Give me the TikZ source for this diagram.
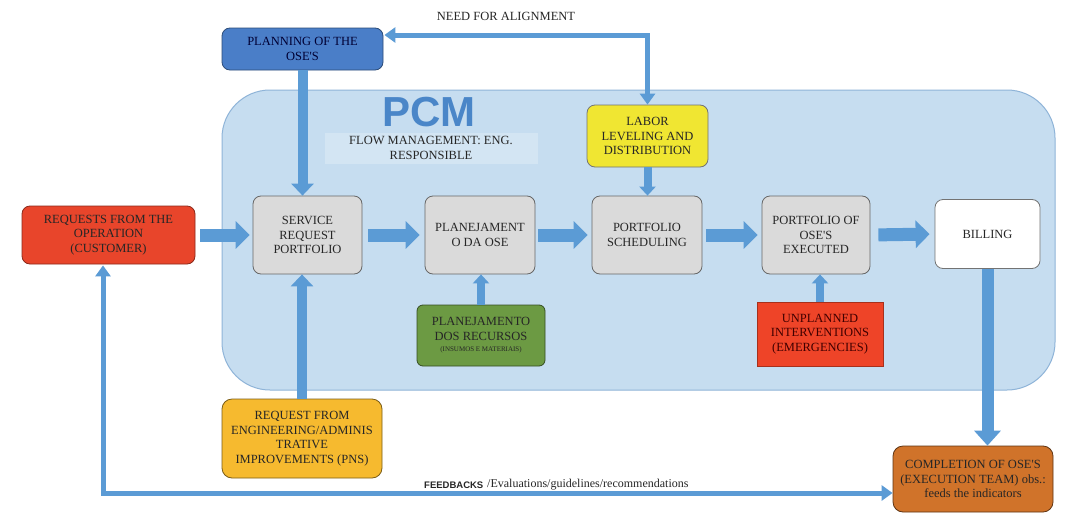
\documentclass[tikz,border=0pt]{standalone}
\usepackage{fontspec}
\setmainfont{Liberation Serif}
\newfontfamily\serfam{Liberation Serif}
\newfontfamily\sansfam{Liberation Sans}
\usetikzlibrary{arrows.meta}
\definecolor{arrowblue}{HTML}{5B9BD5}
\definecolor{panelfill}{HTML}{C6DDF0}
\definecolor{paneldraw}{HTML}{8FB4D8}
\definecolor{stripfill}{HTML}{D3E5F3}
\definecolor{pcmblue}{HTML}{4A86C8}
\definecolor{boxgrey}{HTML}{DADADA}
\definecolor{planblue}{HTML}{4A7EC8}
\definecolor{laboryellow}{HTML}{F0E632}
\definecolor{reqred}{HTML}{E8452B}
\definecolor{recgreen}{HTML}{6C9A43}
\definecolor{unplred}{HTML}{EE4428}
\definecolor{engorange}{HTML}{F6BA2F}
\definecolor{comporange}{HTML}{D0732A}
\begin{document}
\begin{tikzpicture}[x=1pt,y=-1pt,
  txt/.style={font=\serfam\fontsize{12.5}{14.5}\selectfont, align=center, text=black!85},
  box/.style={txt, rectangle, rounded corners=8pt, draw=black!60, line width=0.8pt, inner sep=1pt},
  greybox/.style={box, fill=boxgrey, minimum width=109pt, minimum height=78pt},
  bigarrow/.style={draw=arrowblue, line width=13pt, -{Triangle[length=14pt,width=27pt]}},
  vertarrow/.style={draw=arrowblue, line width=10pt, -{Triangle[length=12pt,width=22pt]}},
  smallarrow/.style={draw=arrowblue, line width=8pt, -{Triangle[length=9pt,width=16pt]}},
  billarrow/.style={draw=arrowblue, line width=12pt, -{Triangle[length=15pt,width=26pt]}},
  thinboth/.style={draw=arrowblue, line width=5pt, {Triangle[length=11pt,width=15pt]}-{Triangle[length=11pt,width=15pt]}}
]
\useasboundingbox (0,0) rectangle (1075,514);
\fill[white] (0,0) rectangle (1075,514);
% panel
\draw[fill=panelfill, draw=paneldraw, line width=1pt, rounded corners=48pt] (222,90) rectangle (1055,390);
\fill[stripfill] (325,133) rectangle (538,164);
\node[font=\sansfam\bfseries\fontsize{42}{42}\selectfont, text=pcmblue] (pcm) at (429,112) {PCM};
\node[txt] (flow) at (431,148) {FLOW MANAGEMENT: ENG.\\RESPONSIBLE};
% nodes
\node[box, fill=planblue, draw=planblue!60!black, minimum width=161pt, minimum height=42pt, text=black!80!blue] (plan) at (302.5,49) {PLANNING OF THE\\OSE'S};
\node[box, fill=laboryellow, draw=black!55, minimum width=121pt, minimum height=62pt] (labor) at (647.5,136) {LABOR\\LEVELING AND\\DISTRIBUTION};
\node[box, fill=reqred, draw=reqred!60!black, minimum width=173pt, minimum height=58pt] (req) at (108.5,235) {REQUESTS FROM THE\\OPERATION\\(CUSTOMER)};
\node[greybox] (srp) at (307.5,235) {SERVICE\\REQUEST\\PORTFOLIO};
\node[greybox, minimum width=110pt] (pda) at (480,235) {PLANEJAMENT\\O DA OSE};
\node[greybox, minimum width=110pt] (sched) at (647,235) {PORTFOLIO\\SCHEDULING};
\node[greybox, minimum width=108pt] (exec) at (816,235) {PORTFOLIO OF\\OSE'S\\EXECUTED};
\node[box, fill=white, draw=black!55, minimum width=105pt, minimum height=69pt] (bill) at (987.5,234) {BILLING};
\node[box, fill=recgreen, draw=recgreen!50!black, minimum width=128pt, minimum height=61pt, rounded corners=6pt] (rec) at (481,335.5) {PLANEJAMENTO\\DOS RECURSOS\\[-3pt]{\fontsize{7}{8}\selectfont (INSUMOS E MATERIAIS)}};
\node[txt, rectangle, fill=unplred, draw=unplred!70!black, line width=0.6pt, minimum width=126pt, minimum height=64pt, inner sep=1pt, text=black!75!red] (unpl) at (820,334) {UNPLANNED\\INTERVENTIONS\\(EMERGENCIES)};
\node[box, fill=engorange, draw=engorange!50!black, minimum width=160pt, minimum height=79pt, rounded corners=10pt] (eng) at (302,438.5) {REQUEST FROM\\ENGINEERING/ADMINIS\\TRATIVE\\IMPROVEMENTS (PNS)};
\node[box, fill=comporange, draw=comporange!45!black, minimum width=160pt, minimum height=66pt, rounded corners=10pt] (comp) at (973,479) {COMPLETION OF OSE'S\\(EXECUTION TEAM) obs.:\\feeds the indicators};
% main flow arrows
\draw[bigarrow, shorten <=5pt, shorten >=3pt] (req.east) -- (srp.west);
\draw[bigarrow, shorten <=6pt, shorten >=5pt] (srp.east) -- (pda.west);
\draw[bigarrow, shorten <=3pt, shorten >=4pt] (pda.east) -- (sched.west);
\draw[bigarrow, shorten <=4pt, shorten >=4pt] (sched.east) -- (exec.west);
\draw[bigarrow, shorten <=8pt, shorten >=5pt] (exec.east) -- (bill.west);
% vertical arrows
\draw[vertarrow] (plan.south) -- (plan.south |- srp.north);
\draw[vertarrow] (eng.north) -- (eng.north |- srp.south);
\draw[smallarrow] (labor.south) -- (labor.south |- sched.north);
\draw[smallarrow] (rec.north) -- (rec.north |- pda.south);
\draw[smallarrow] (unpl.north) -- (unpl.north |- exec.south);
\draw[billarrow] (bill.south) -- (bill.south |- comp.north);
% alignment loop
\coordinate (na) at (647.5,35);
\draw[thinboth, shorten >=1pt] (labor.north) -- (na) -- (na -| plan.east);
\node[txt] (natext) at (506,16) {NEED FOR ALIGNMENT};
% feedback loop
\coordinate (fb) at (103,493);
\draw[thinboth, shorten <=1pt] (req.south -| fb) -- (fb) -- (fb -| comp.west);
\node[anchor=base west, font=\sansfam\bfseries\fontsize{9.5}{10}\selectfont, text=black!85, inner sep=0pt] (fbk) at (424,488) {FEEDBACKS};
\node[anchor=base west, font=\serfam\fontsize{12}{14}\selectfont, text=black!85, inner sep=0pt] (fbt) at (487,487) {/Evaluations/guidelines/recommendations};
\end{tikzpicture}
\end{document}
